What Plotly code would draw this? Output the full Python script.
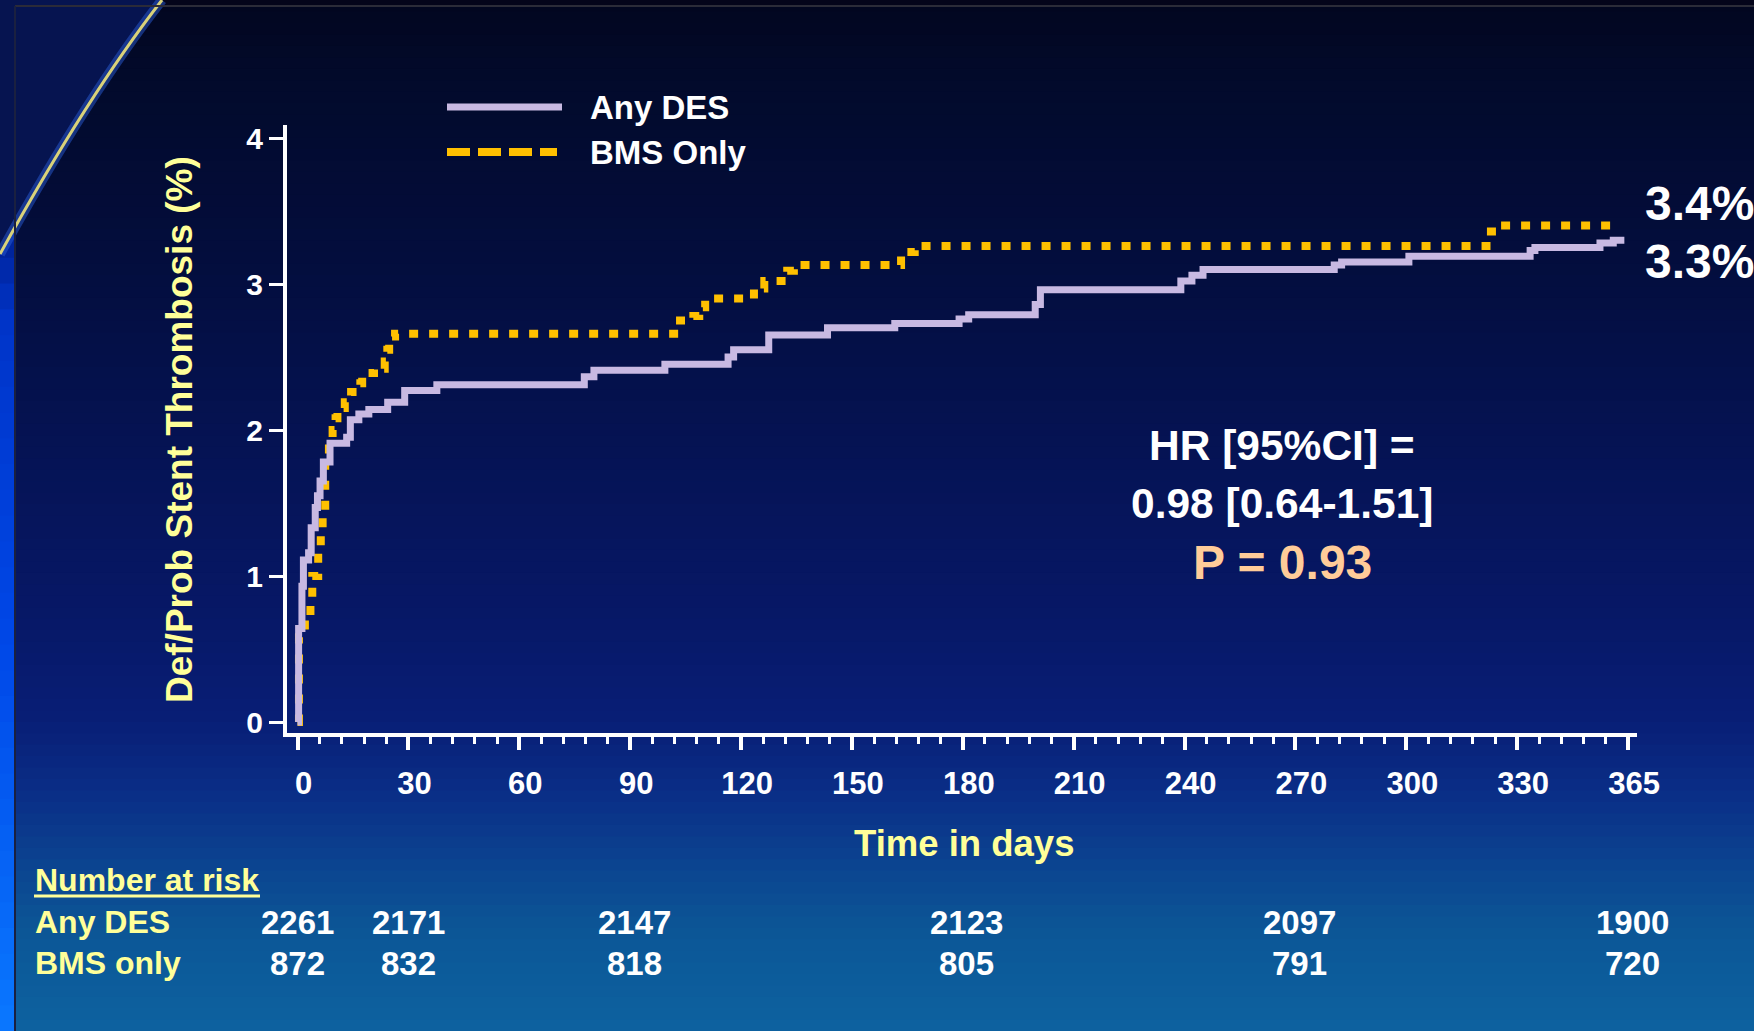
import plotly.graph_objects as go

# ---------------- data ----------------
# Kaplan-Meier cumulative incidence of definite/probable stent thrombosis (%)
des_days = [0, 0.3, 1.2, 1.6, 3.0, 3.7, 4.8, 5.4, 6.1, 7.0, 8.8, 13.3, 14.3, 16.6,
            19.3, 24.4, 29.0, 37.7, 77.6, 80.2, 99.4, 116.5, 118.0, 127.5, 143.4,
            161.6, 179.0, 181.6, 199.6, 201.0, 239.0, 242.0, 245.0, 280.5, 282.5,
            300.7, 333.5, 334.8, 352.4, 356.0, 359.0]
des_pct = [0.0, 0.64, 0.93, 1.11, 1.16, 1.33, 1.47, 1.55, 1.65, 1.78, 1.91, 1.95, 2.07, 2.11,
           2.14, 2.19, 2.27, 2.31, 2.365, 2.41, 2.45, 2.50, 2.55, 2.65, 2.70,
           2.73, 2.76, 2.79, 2.86, 2.96, 3.02, 3.06, 3.10, 3.13, 3.15,
           3.19, 3.23, 3.25, 3.28, 3.30, 3.30]

bms_days = [0, 0.4, 2.0, 3.5, 4.0, 5.6, 6.3, 6.8, 7.5, 8.5, 9.5, 10.3, 10.8, 12.8,
            14.5, 17.0, 17.5, 20.7, 23.6, 24.3, 24.8, 26.4, 103.5, 107.1, 108.7,
            110.3, 123.5, 126.3, 132.5, 134.3, 163.3, 167.0, 321.7, 325.0, 357.0]
bms_pct = [0.0, 0.58, 0.72, 0.84, 1.00, 1.17, 1.33, 1.42, 1.81, 1.92, 2.00, 2.08, 2.15, 2.19,
           2.26, 2.32, 2.39, 2.42, 2.47, 2.55, 2.64, 2.66, 2.75, 2.78, 2.84,
           2.90, 2.97, 3.02, 3.09, 3.13, 3.22, 3.26, 3.36, 3.40, 3.40]

series_names = ["Any DES", "BMS Only"]

x_tick_days = [0, 30, 60, 90, 120, 150, 180, 210, 240, 270, 300, 330, 360]
x_tick_text = ["0", "30", "60", "90", "120", "150", "180", "210", "240", "270", "300", "330", "365"]
y_tick_vals = [0, 1, 2, 3, 4]

risk_days = [0, 30, 90, 180, 270, 360]
risk_rows = ["Any DES", "BMS only"]
risk_des = [2261, 2171, 2147, 2123, 2097, 1900]
risk_bms = [872, 832, 818, 805, 791, 720]

hr_line1 = "HR [95%CI] ="
hr_line2 = "0.98 [0.64-1.51]"
p_text = "P = 0.93"

# ---------------- styling ----------------
W, H = 1754, 1031
L, R, T, B = 287, 1637, 125, 733          # plot-area edges in pixels
FONT = "Liberation Sans, Arial, Helvetica, sans-serif"
WHITE = "#ffffff"
PALE_YELLOW = "#ffff99"
LAVENDER = "#c8b9e2"
GOLD = "#ffc000"
PEACH = "#ffcc99"


def px(x):
    """pixel x -> paper x"""
    return (x - L) / (R - L)


def py(y):
    """pixel y -> paper y"""
    return (B - y) / (B - T)


def hex2rgb(h):
    h = h.lstrip("#")
    return tuple(int(h[i:i + 2], 16) for i in (0, 2, 4))


def lerp_color(stops, y):
    for (y0, c0), (y1, c1) in zip(stops, stops[1:]):
        if y0 <= y <= y1:
            t = (y - y0) / (y1 - y0) if y1 > y0 else 0
            a, b = hex2rgb(c0), hex2rgb(c1)
            r = [round(a[i] + (b[i] - a[i]) * t) for i in range(3)]
            return "rgb({},{},{})".format(*r)
    return stops[-1][1]


shapes = []

# vertical background gradient (dark navy at the top, teal-blue at the bottom)
bg_stops = [(0, "#02061f"), (80, "#020a2b"), (250, "#030d3c"), (450, "#051354"),
            (620, "#071867"), (720, "#081e76"), (790, "#0a2d86"), (860, "#0b4290"),
            (930, "#0c5696"), (1031, "#0d62a0")]
n_bands = 90
for i in range(n_bands):
    y0 = H * i / n_bands
    y1 = H * (i + 1) / n_bands + 1
    shapes.append(dict(type="rect", xref="paper", yref="paper",
                       x0=px(0), x1=px(W), y0=py(y0), y1=py(y1),
                       fillcolor=lerp_color(bg_stops, (y0 + y1) / 2),
                       line=dict(width=0), layer="below"))

# bright blue strip along the left edge
strip_stops = [(0, "#000818"), (200, "#001a80"), (320, "#0034c8"),
               (650, "#0048e8"), (1031, "#0a78ff")]
for i in range(40):
    y0 = H * i / 40
    y1 = H * (i + 1) / 40 + 1
    shapes.append(dict(type="rect", xref="paper", yref="paper",
                       x0=px(0), x1=px(14), y0=py(y0), y1=py(y1),
                       fillcolor=lerp_color(strip_stops, (y0 + y1) / 2),
                       line=dict(width=0), layer="below"))

# dark band across the very top
shapes.append(dict(type="rect", xref="paper", yref="paper",
                   x0=px(0), x1=px(W), y0=py(0), y1=py(6),
                   fillcolor="#04041a", line=dict(width=0), layer="below"))

# decorative swoosh in the top-left corner
corner = "M {},{} L {},{} Q {},{} {},{} Z".format(
    px(0), py(0), px(160), py(0), px(85), py(95), px(0), py(252))
shapes.append(dict(type="path", xref="paper", yref="paper", path=corner,
                   fillcolor="#061450", line=dict(width=0), layer="below"))
swoosh = "M {},{} Q {},{} {},{}".format(px(162), py(0), px(88), py(95), px(0), py(254))
shapes.append(dict(type="path", xref="paper", yref="paper", path=swoosh,
                   line=dict(color="rgba(40,90,210,0.5)", width=10), layer="below"))
shapes.append(dict(type="path", xref="paper", yref="paper", path=swoosh,
                   line=dict(color="#d9d27a", width=3), layer="below"))

# thin frame of the panel
shapes.append(dict(type="line", xref="paper", yref="paper",
                   x0=px(15), x1=px(W), y0=py(6), y1=py(6),
                   line=dict(color="#2b2b38", width=2), layer="below"))
shapes.append(dict(type="line", xref="paper", yref="paper",
                   x0=px(15), x1=px(15), y0=py(6), y1=py(H),
                   line=dict(color="#1a2040", width=2), layer="below"))

# legend samples
shapes.append(dict(type="line", xref="paper", yref="paper",
                   x0=px(447), x1=px(562), y0=py(107), y1=py(107),
                   line=dict(color=LAVENDER, width=7)))
shapes.append(dict(type="line", xref="paper", yref="paper",
                   x0=px(447), x1=px(557), y0=py(152), y1=py(152),
                   line=dict(color=GOLD, width=8, dash="23px,8px")))

# underline for "Number at risk"
shapes.append(dict(type="line", xref="paper", yref="paper",
                   x0=px(34), x1=px(260), y0=py(896), y1=py(896),
                   line=dict(color=PALE_YELLOW, width=3)))

# ---------------- traces ----------------
fig = go.Figure()
fig.add_trace(go.Scatter(x=bms_days, y=bms_pct, mode="lines", name=series_names[1],
                         line=dict(color=GOLD, width=8, shape="hv", dash="9px,11px"),
                         showlegend=False, hoverinfo="skip"))
fig.add_trace(go.Scatter(x=des_days, y=des_pct, mode="lines", name=series_names[0],
                         line=dict(color=LAVENDER, width=7, shape="hv"),
                         showlegend=False, hoverinfo="skip"))

# ---------------- annotations ----------------
def bold(size, color):
    return dict(family=FONT, size=size, color=color, weight="bold")


ann = []
# legend labels
for name, yy in zip(series_names, [107, 152]):
    ann.append(dict(text=name, xref="paper", yref="paper", x=px(588), y=py(yy),
                    xanchor="left", yanchor="middle", showarrow=False,
                    font=bold(33, WHITE)))

# y-axis title
ann.append(dict(text="Def/Prob Stent Thrombosis (%)", xref="paper", yref="paper",
                x=px(179), y=py(430), textangle=-90, showarrow=False,
                xanchor="center", yanchor="middle", font=bold(37, PALE_YELLOW)))

# x-axis title
ann.append(dict(text="Time in days", xref="paper", yref="paper",
                x=px(964), y=py(843), showarrow=False,
                xanchor="center", yanchor="middle", font=bold(36.5, PALE_YELLOW)))

# end-of-follow-up rates
ann.append(dict(text="{:.1f}%".format(bms_pct[-1]), xref="paper", yref="y",
                x=px(1643), y=bms_pct[-1], yshift=22, showarrow=False,
                xanchor="left", yanchor="middle", font=bold(48, WHITE)))
ann.append(dict(text="{:.1f}%".format(des_pct[-1]), xref="paper", yref="y",
                x=px(1643), y=des_pct[-1], yshift=-21, showarrow=False,
                xanchor="left", yanchor="middle", font=bold(48, WHITE)))

# hazard ratio block
for txt, yy, col, sz in [(hr_line1, 445, WHITE, 42.5), (hr_line2, 503, WHITE, 42.5),
                         (p_text, 562, PEACH, 48)]:
    ann.append(dict(text=txt, xref="paper", yref="paper", x=px(1282), y=py(yy),
                    showarrow=False, xanchor="center", yanchor="middle",
                    font=bold(sz, col)))

# number at risk table
ann.append(dict(text="Number at risk", xref="paper", yref="paper", x=px(33), y=py(880),
                showarrow=False, xanchor="left", yanchor="middle",
                font=bold(32, PALE_YELLOW)))
for label, values, yy in zip(risk_rows, [risk_des, risk_bms], [922, 963]):
    ann.append(dict(text=label, xref="paper", yref="paper", x=px(33), y=py(yy),
                    showarrow=False, xanchor="left", yanchor="middle",
                    font=bold(32, PALE_YELLOW)))
    for d, v in zip(risk_days, values):
        ann.append(dict(text=str(v), xref="x", yref="paper", x=d, y=py(yy),
                        xshift=4 if d >= 90 else 0,
                        showarrow=False, xanchor="center", yanchor="middle",
                        font=bold(33, WHITE)))

# ---------------- layout ----------------
x_lo = -(297.5 - L) / 3.696
x_hi = x_lo + (R - L) / 3.696
y_lo = -(B - 722) / 146
y_hi = (722 - T) / 146

fig.update_layout(
    width=W, height=H,
    margin=dict(l=L, r=W - R, t=T, b=H - B, pad=0),
    paper_bgcolor="#040c34",
    plot_bgcolor="rgba(0,0,0,0)",
    shapes=shapes,
    annotations=ann,
    showlegend=False,
    xaxis=dict(range=[x_lo, x_hi], showgrid=False, zeroline=False,
               showline=True, linecolor=WHITE, linewidth=4,
               tickmode="array", tickvals=x_tick_days, ticktext=x_tick_text,
               ticks="outside", ticklen=13, tickwidth=4, tickcolor=WHITE,
               ticklabelstandoff=7, ticklabelshift=6,
               tickfont=dict(family=FONT, size=31, color=WHITE, weight="bold"),
               minor=dict(tickmode="linear", tick0=0, dtick=6, ticks="outside",
                          ticklen=7, tickwidth=3, tickcolor=WHITE, showgrid=False)),
    yaxis=dict(range=[y_lo, y_hi], showgrid=False, zeroline=False,
               showline=True, linecolor=WHITE, linewidth=4,
               tickmode="array", tickvals=y_tick_vals,
               ticks="outside", ticklen=14, tickwidth=3, tickcolor=WHITE,
               tickfont=dict(family=FONT, size=30, color=WHITE, weight="bold")),
)

fig.write_html("out.html")
